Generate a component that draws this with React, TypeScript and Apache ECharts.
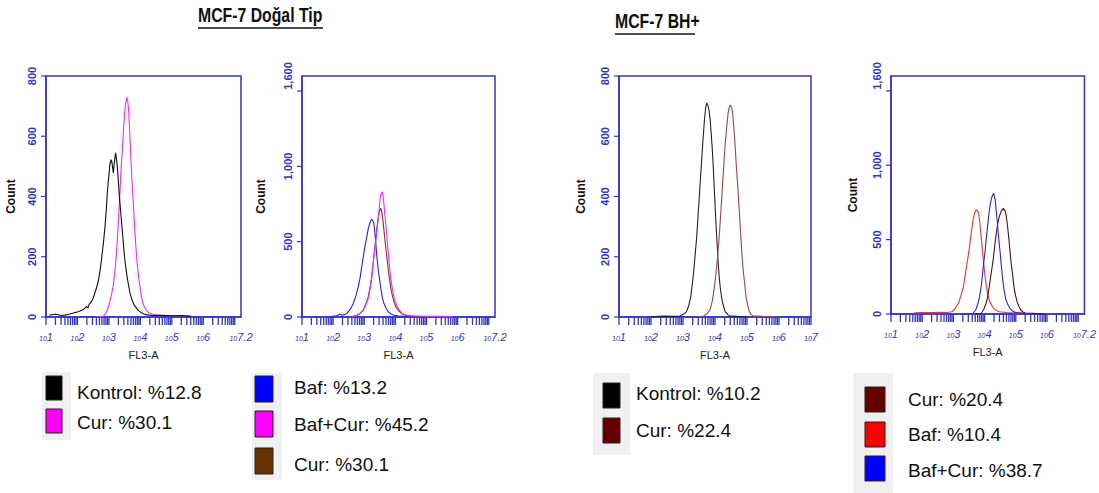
import React, { useEffect, useRef } from "react";
import * as echarts from "echarts";

// ---------- DATA (x = log10 of FL3-A, y = count) ----------
const p1Kontrol: number[][] = [[1.1,6],[1.3,9],[1.5,5],[1.7,8],[1.9,14],[2.05,18],[2.2,26],[2.29,34],[2.33,30],[2.37,42],[2.44,50],[2.5,63],[2.58,88],[2.66,117],[2.72,155],[2.77,196],[2.83,250],[2.88,305],[2.92,360],[2.95,416],[3.0,470],[3.03,505],[3.07,522],[3.09,518],[3.12,495],[3.14,478],[3.17,510],[3.21,545],[3.24,525],[3.27,495],[3.3,450],[3.33,405],[3.37,355],[3.41,305],[3.45,258],[3.48,217],[3.52,178],[3.57,140],[3.62,108],[3.67,80],[3.73,58],[3.8,40],[3.9,26],[3.99,17],[4.1,11],[4.2,7],[4.4,5],[4.7,6],[5.0,4],[5.3,5],[5.6,3]];
const p1Cur: number[][] = [[2.6,0],[2.82,2],[2.9,12],[2.97,28],[3.03,51],[3.09,78],[3.14,106],[3.19,150],[3.23,196],[3.27,260],[3.31,329],[3.35,410],[3.39,495],[3.44,575],[3.48,649],[3.52,700],[3.57,729],[3.6,715],[3.63,682],[3.66,620],[3.69,549],[3.73,460],[3.78,372],[3.82,295],[3.86,229],[3.9,175],[3.95,130],[4.0,92],[4.04,63],[4.1,40],[4.18,23],[4.27,14],[4.36,10],[4.6,6],[4.9,5],[5.3,3]];

const p2Baf: number[][] = [[1.9,3],[2.1,8],[2.22,18],[2.3,12],[2.44,24],[2.55,50],[2.65,91],[2.73,140],[2.81,201],[2.87,265],[2.92,334],[2.97,400],[3.02,467],[3.08,530],[3.13,589],[3.18,625],[3.22,645],[3.24,649],[3.27,640],[3.31,622],[3.34,560],[3.38,467],[3.41,390],[3.45,312],[3.5,240],[3.54,179],[3.58,130],[3.63,91],[3.7,58],[3.77,35],[3.85,22],[3.93,13],[4.1,6],[4.4,3]];
const p2Cur: number[][] = [[2.6,3],[2.76,10],[2.87,25],[2.97,46],[3.05,85],[3.13,135],[3.19,200],[3.24,268],[3.28,345],[3.32,423],[3.36,500],[3.4,578],[3.44,645],[3.48,699],[3.53,722],[3.57,690],[3.61,622],[3.65,540],[3.7,445],[3.75,355],[3.8,268],[3.85,195],[3.91,135],[3.97,90],[4.04,58],[4.12,38],[4.2,24],[4.36,8],[4.6,4],[5.0,2]];
const p2BafCur: number[][] = [[2.6,2],[2.8,12],[2.97,44],[3.05,80],[3.13,124],[3.18,180],[3.23,246],[3.27,320],[3.31,400],[3.36,480],[3.4,556],[3.44,640],[3.48,722],[3.52,800],[3.57,832],[3.6,810],[3.63,755],[3.67,660],[3.72,556],[3.76,455],[3.8,357],[3.85,260],[3.91,179],[3.97,120],[4.04,80],[4.12,48],[4.2,27],[4.3,14],[4.5,8],[4.8,6],[5.2,5],[5.5,4],[5.85,3]];

const p3Kontrol: number[][] = [[2.0,1],[2.4,3],[2.7,2],[2.9,3],[3.0,8],[3.11,18],[3.18,38],[3.24,67],[3.29,108],[3.34,156],[3.38,208],[3.43,267],[3.47,335],[3.51,400],[3.55,468],[3.59,532],[3.63,595],[3.67,654],[3.71,695],[3.74,710],[3.78,702],[3.81,688],[3.85,655],[3.88,610],[3.92,550],[3.95,488],[3.98,420],[4.01,355],[4.04,292],[4.07,234],[4.1,180],[4.13,134],[4.17,92],[4.22,56],[4.27,34],[4.32,18],[4.4,8],[4.47,3],[4.7,2],[5.0,1]];
const p3Cur: number[][] = [[3.5,1],[3.63,2],[3.74,10],[3.84,23],[3.91,50],[3.97,90],[4.02,135],[4.07,189],[4.12,250],[4.16,311],[4.2,378],[4.24,444],[4.28,512],[4.32,577],[4.37,635],[4.41,677],[4.45,698],[4.48,704],[4.52,695],[4.55,677],[4.59,628],[4.63,566],[4.67,495],[4.72,422],[4.76,350],[4.8,278],[4.84,212],[4.88,156],[4.93,108],[4.97,67],[5.02,40],[5.07,18],[5.13,8],[5.2,3],[5.5,2],[5.9,1]];

const p4Cur: number[][] = [[3.7,1],[3.89,5],[3.97,30],[4.05,72],[4.1,120],[4.15,184],[4.2,260],[4.26,341],[4.31,430],[4.36,520],[4.41,595],[4.47,654],[4.53,690],[4.6,710],[4.65,695],[4.69,665],[4.73,600],[4.77,520],[4.81,430],[4.85,341],[4.9,260],[4.94,184],[4.99,125],[5.04,83],[5.1,50],[5.16,27],[5.23,14],[5.3,7],[5.6,4],[5.9,2]];
const p4Baf: number[][] = [[1.75,8],[2.0,10],[2.3,9],[2.6,11],[2.8,10],[2.95,15],[3.05,35],[3.16,72],[3.24,120],[3.32,184],[3.37,250],[3.42,318],[3.48,398],[3.53,475],[3.58,555],[3.63,632],[3.68,680],[3.73,699],[3.77,692],[3.81,677],[3.85,605],[3.89,520],[3.93,430],[3.97,341],[4.01,260],[4.06,184],[4.1,135],[4.15,94],[4.22,60],[4.29,38],[4.37,24],[4.47,15],[4.7,10],[5.0,8],[5.3,6]];
const p4BafCur: number[][] = [[3.4,2],[3.63,5],[3.72,30],[3.79,72],[3.84,120],[3.89,184],[3.93,260],[3.97,341],[4.02,430],[4.06,520],[4.1,600],[4.14,677],[4.18,735],[4.22,778],[4.26,800],[4.29,811],[4.31,795],[4.34,766],[4.37,700],[4.41,610],[4.45,510],[4.5,408],[4.54,315],[4.58,229],[4.62,165],[4.67,106],[4.74,65],[4.81,38],[4.9,20],[4.99,10],[5.2,5],[5.5,3]];

// tick labels
const xLabels72 = [1, 2, 3, 4, 5, 6, 7.2];
const xLabels7 = [1, 2, 3, 4, 5, 6, 7];
const yLabels800 = [0, 200, 400, 600, 800];
const yLabels1600 = [0, 500, 1000, 1600];
const yTicks1600 = [0, 500, 1000, 1500];

// legends
const legend1 = [["Kontrol: %12.8", "#000000"], ["Cur: %30.1", "#ff00ff"]];
const legend2 = [["Baf: %13.2", "#0000ff"], ["Baf+Cur: %45.2", "#ff00ff"], ["Cur: %30.1", "#663300"]];
const legend3 = [["Kontrol: %10.2", "#000000"], ["Cur: %22.4", "#660000"]];
const legend4 = [["Cur: %20.4", "#660000"], ["Baf: %10.4", "#ff0000"], ["Baf+Cur: %38.7", "#0000ff"]];

const BLUE = "#3434c8";
const FONT = "'Liberation Sans', Arial, sans-serif";

function xTickValues(max: number): number[] {
  const out: number[] = [];
  for (let n = 1; n <= max; n++) {
    out.push(n);
    for (let k = 2; k <= 9; k++) {
      const v = n + Math.log10(k);
      if (v < max) out.push(v);
    }
  }
  return out;
}

type Panel = {
  grid: { left: number; top: number; width: number; height: number };
  xMax: number;
  xLabels: number[];
  yMax: number;
  yLabels: number[];
  yTicks: number[];
  countGap: number;
  series: { data: number[][]; color: string }[];
};

const panels: Panel[] = [
  {
    grid: { left: 46, top: 76, width: 195, height: 241 },
    xMax: 7.2, xLabels: xLabels72, yMax: 800, yLabels: yLabels800, yTicks: yLabels800, countGap: 29,
    series: [{ data: p1Cur, color: "#ff22ff" }, { data: p1Kontrol, color: "#111111" }],
  },
  {
    grid: { left: 302, top: 76, width: 193, height: 241 },
    xMax: 7.2, xLabels: xLabels72, yMax: 1600, yLabels: yLabels1600, yTicks: yTicks1600, countGap: 35,
    series: [{ data: p2Baf, color: "#2222ee" }, { data: p2Cur, color: "#7a3a12" }, { data: p2BafCur, color: "#ff22ff" }],
  },
  {
    grid: { left: 619, top: 76, width: 192, height: 241 },
    xMax: 7, xLabels: xLabels7, yMax: 800, yLabels: yLabels800, yTicks: yLabels800, countGap: 32,
    series: [{ data: p3Kontrol, color: "#222222" }, { data: p3Cur, color: "#a04444" }],
  },
  {
    grid: { left: 891, top: 76, width: 198, height: 238 },
    xMax: 7.2, xLabels: xLabels72, yMax: 1600, yLabels: yLabels1600, yTicks: yTicks1600, countGap: 32,
    series: [{ data: p4Baf, color: "#ff2a2a" }, { data: p4Cur, color: "#5c0c0c" }, { data: p4BafCur, color: "#2222ff" }],
  },
];

function buildOption() {
  const grid: any[] = [];
  const xAxis: any[] = [];
  const yAxis: any[] = [];
  const series: any[] = [];
  panels.forEach((p, i) => {
    grid.push({ ...p.grid, show: true, borderColor: BLUE, borderWidth: 1.5, backgroundColor: "#ffffff" });
    xAxis.push({
      type: "value", gridIndex: i, min: 1, max: p.xMax, position: "bottom",
      name: "FL3-A", nameLocation: "middle", nameGap: 32,
      nameTextStyle: { fontSize: 11, color: "#222", fontFamily: FONT },
      axisLine: { show: true, lineStyle: { color: BLUE, width: 1.5 } },
      axisTick: { show: false },
      splitLine: { show: false },
      axisLabel: {
        customValues: p.xLabels, margin: 14,
        formatter: (v: number) => `{a|10}{b|${v}}`,
        rich: {
          a: { fontSize: 7, color: BLUE, fontStyle: "italic", fontFamily: FONT, padding: [4, 0, 0, 0] },
          b: { fontSize: 11, color: BLUE, fontStyle: "italic", fontFamily: FONT },
        },
      },
    });
    yAxis.push({
      type: "value", gridIndex: i, min: 0, max: p.yMax,
      name: "Count", nameLocation: "middle", nameGap: p.countGap, nameRotate: 90,
      nameTextStyle: { fontSize: 12, fontWeight: "bold", color: "#111", fontFamily: FONT },
      axisLine: { show: true, lineStyle: { color: BLUE, width: 1.5 } },
      axisTick: { show: false },
      splitLine: { show: false },
      axisLabel: {
        customValues: p.yLabels, rotate: 90, margin: 9,
        fontSize: 11, fontWeight: "bold", color: BLUE, fontFamily: FONT,
        formatter: (v: number) => v.toLocaleString("en-US"),
      },
    });
    // x ticks (log decades + minor) drawn through the axis scale
    series.push({
      type: "custom", xAxisIndex: i, yAxisIndex: i, silent: true, z: 1,
      data: xTickValues(p.xMax).map((v) => [v, 0]),
      renderItem: (_params: any, api: any) => {
        const pt = api.coord([api.value(0), 0]);
        return { type: "line", shape: { x1: pt[0], y1: pt[1], x2: pt[0], y2: pt[1] + 8 }, style: { stroke: BLUE, lineWidth: 1.3 } };
      },
    });
    // y ticks
    series.push({
      type: "custom", xAxisIndex: i, yAxisIndex: i, silent: true, z: 1,
      data: p.yTicks.map((v) => [1, v]),
      renderItem: (_params: any, api: any) => {
        const pt = api.coord([1, api.value(1)]);
        return { type: "line", shape: { x1: pt[0] - 5, y1: pt[1], x2: pt[0], y2: pt[1] }, style: { stroke: BLUE, lineWidth: 1.2 } };
      },
    });
    p.series.forEach((s) => {
      series.push({
        type: "line", xAxisIndex: i, yAxisIndex: i, data: s.data, z: 3,
        showSymbol: false, symbol: "none", lineStyle: { color: s.color, width: 1.1 }, itemStyle: { color: s.color },
      });
    });
  });

  const graphic: any[] = [];
  // titles
  const titleStyle = { fontSize: 20, fontWeight: "bold", fill: "#111", fontFamily: FONT };
  graphic.push({ type: "text", x: 198, y: 5, scaleX: 0.79, style: { text: "MCF-7 Doğal Tip", ...titleStyle } });
  graphic.push({ type: "line", shape: { x1: 198, y1: 28, x2: 323, y2: 28 }, style: { stroke: "#111", lineWidth: 1.5 } });
  graphic.push({ type: "text", x: 615, y: 11, scaleX: 0.79, style: { text: "MCF-7 BH+", ...titleStyle } });
  graphic.push({ type: "line", shape: { x1: 615, y1: 34, x2: 695, y2: 34 }, style: { stroke: "#111", lineWidth: 1.5 } });

  const addLegend = (items: string[][], bg: number[], swX: number, swW: number, swH: number, swY: number[], txX: number, txY: number[]) => {
    graphic.push({ type: "rect", shape: { x: bg[0], y: bg[1], width: bg[2], height: bg[3] }, style: { fill: "#f0f0f0" } });
    items.forEach((it, k) => {
      graphic.push({ type: "rect", shape: { x: swX, y: swY[k], width: swW, height: swH }, style: { fill: it[1], stroke: "#222", lineWidth: 1 } });
      graphic.push({ type: "text", x: txX, y: txY[k], style: { text: it[0], fontSize: 19, fill: "#111", fontFamily: FONT, verticalAlign: "middle" } });
    });
  };
  addLegend(legend1, [42, 372, 29, 68], 46, 16, 24, [376, 409], 77, [392, 422]);
  addLegend(legend2, [252, 373, 30, 107], 255, 18, 26, [376, 411, 448], 294, [387, 424, 464]);
  addLegend(legend3, [593, 373, 37, 82], 603, 17, 25, [383, 418], 636, [393, 430]);
  addLegend(legend4, [853, 373, 40, 120], 865, 20, 25, [387, 422, 456], 908, [399, 434, 470]);

  return { animation: false, backgroundColor: "#ffffff", grid, xAxis, yAxis, series, graphic };
}

export default function App() {
  const ref = useRef<HTMLDivElement>(null);
  useEffect(() => {
    if (!ref.current) return;
    const chart = echarts.init(ref.current, undefined, { renderer: "svg" });
    chart.setOption(buildOption() as any);
    return () => chart.dispose();
  }, []);
  return <div ref={ref} style={{ position: "fixed", left: 0, top: 0, width: 1099, height: 493 }} />;
}
